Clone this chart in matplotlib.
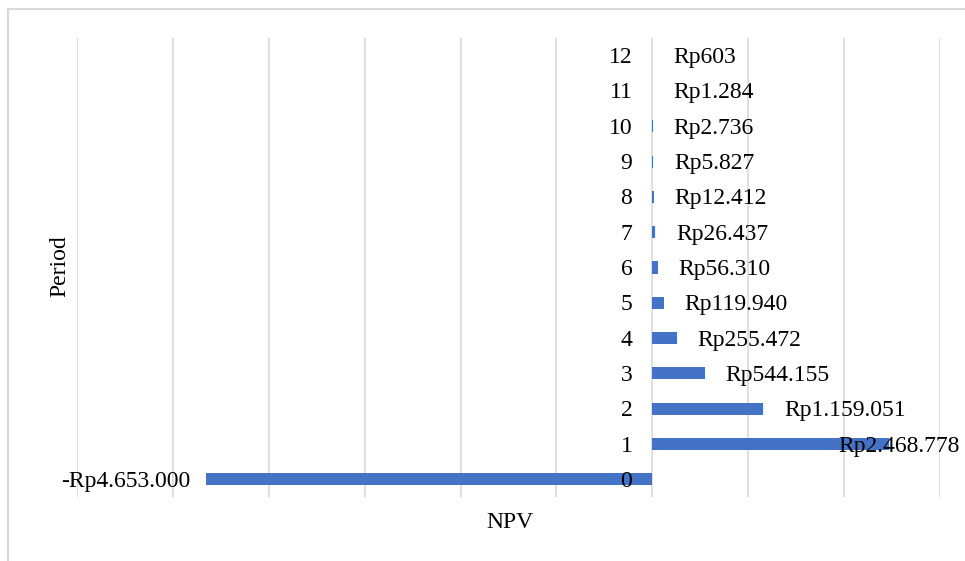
import matplotlib
matplotlib.use("Agg")
import matplotlib.pyplot as plt
from matplotlib.lines import Line2D

periods = [0, 1, 2, 3, 4, 5, 6, 7, 8, 9, 10, 11, 12]
npv = [-4653000, 2468778, 1159051, 544155, 255472, 119940, 56310, 26437, 12412, 5827, 2736, 1284, 603]
labels = ["-Rp4.653.000", "Rp2.468.778", "Rp1.159.051", "Rp544.155", "Rp255.472", "Rp119.940",
          "Rp56.310", "Rp26.437", "Rp12.412", "Rp5.827", "Rp2.736", "Rp1.284", "Rp603"]

plt.rcParams['font.family'] = ['Liberation Serif', 'DejaVu Serif']
W, H = 965, 561
fig = plt.figure(figsize=(W / 100, H / 100), dpi=100)
ax = fig.add_axes([77 / W, (H - 497) / H, (940 - 77) / W, (497 - 38) / H])

ax.barh(periods, npv, height=0.34, color="#4472C4", zorder=2)
ax.set_xlim(-6000000, 3000000)
ax.set_ylim(-0.5, 12.5)
ax.set_xticks(range(-6000000, 3000001, 1000000))
ax.grid(axis="x", color="#d9d9d9", linewidth=1.2, zorder=0)
ax.tick_params(left=False, bottom=False, labelleft=False, labelbottom=False)
for s in ax.spines.values():
    s.set_visible(False)

fs = 17
dy = -2
for p, v, lab in zip(periods, npv, labels):
    # category labels next to zero axis
    ax.annotate(str(p), (0, p), xytext=(-20, dy), textcoords="offset pixels",
                ha="right", va="center", fontsize=fs, zorder=5)
    if v < 0:
        ax.annotate(lab, (v, p), xytext=(-16, dy), textcoords="offset pixels",
                    ha="right", va="center", fontsize=fs, zorder=5)
    elif p == 1:
        ax.annotate(lab, (1.0, p), xycoords=("axes fraction", "data"), xytext=(20, dy),
                    textcoords="offset pixels", ha="right", va="center", fontsize=fs, zorder=5)
    else:
        ax.annotate(lab, (v, p), xytext=(21, dy), textcoords="offset pixels",
                    ha="left", va="center", fontsize=fs, zorder=5)

fig.text(510 / W, 1 - 522 / H, "NPV", ha="center", va="center", fontsize=fs)
fig.text(60 / W, 1 - 266 / H, "Period", ha="center", va="center", fontsize=fs, rotation=90)

# chart area border (left and top visible)
fig.add_artist(Line2D([8 / W, 8 / W], [0, 1 - 9 / H], transform=fig.transFigure,
                      color="#d9d9d9", linewidth=1.5))
fig.add_artist(Line2D([8 / W, 1], [1 - 9 / H, 1 - 9 / H], transform=fig.transFigure,
                      color="#d9d9d9", linewidth=1.5))

fig.savefig("out.png", dpi=100)
